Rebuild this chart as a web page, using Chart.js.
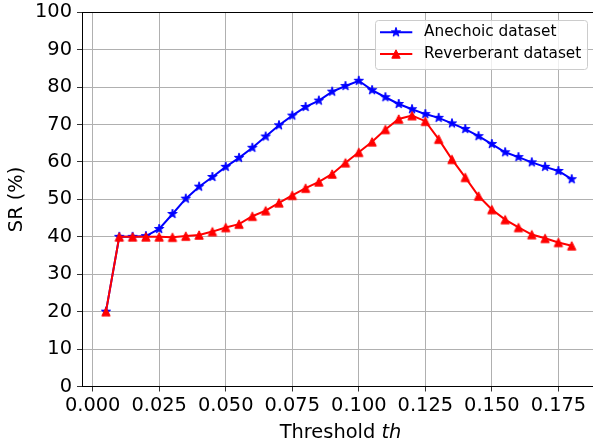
<!DOCTYPE html>
<html>
<head>
<meta charset="utf-8">
<title>SR vs threshold</title>
<script src="https://cdn.jsdelivr.net/npm/chart.js@4.4.0/dist/chart.umd.min.js"></script>
<style>
    html, body { margin: 0; padding: 0; background: #fff; overflow: hidden; }
    #wrap { width: 600px; height: 445px; }
</style>
</head>
<body>
<div id="wrap"><canvas id="srChart" width="600" height="445"></canvas></div>
<script>
// Threshold values (x) and success rate in % for both datasets
const thresholds = [0.005, 0.010, 0.015, 0.020, 0.025, 0.030, 0.035, 0.040, 0.045, 0.050,
                    0.055, 0.060, 0.065, 0.070, 0.075, 0.080, 0.085, 0.090, 0.095, 0.100,
                    0.105, 0.110, 0.115, 0.120, 0.125, 0.130, 0.135, 0.140, 0.145, 0.150,
                    0.155, 0.160, 0.165, 0.170, 0.175, 0.180];
const anechoicSR = [20.0, 40.0, 40.0, 40.2, 42.1, 46.1, 50.2, 53.4, 56.0, 58.7,
                    61.1, 63.8, 66.8, 69.8, 72.4, 74.7, 76.4, 78.8, 80.3, 81.7,
                    79.2, 77.3, 75.5, 74.1, 72.8, 71.8, 70.3, 68.8, 66.9, 64.8,
                    62.6, 61.3, 59.9, 58.7, 57.6, 55.4];
const reverberantSR = [20.0, 40.0, 40.0, 40.0, 40.0, 39.9, 40.2, 40.5, 41.4, 42.5,
                       43.4, 45.5, 47.0, 49.1, 51.1, 53.0, 54.7, 56.8, 59.8, 62.6,
                       65.4, 68.7, 71.5, 72.4, 70.9, 66.1, 60.7, 55.9, 50.9, 47.3,
                       44.6, 42.5, 40.6, 39.6, 38.5, 37.6];
const xTickValues = [0, 0.025, 0.05, 0.075, 0.1, 0.125, 0.15, 0.175];
const seriesNames = ['Anechoic dataset', 'Reverberant dataset'];

const FONT = 'DejaVu Sans';

// filled marker glyphs (5-point star and upward triangle)
function makeMarker(kind, color) {
    const c = document.createElement('canvas');
    c.width = 14;
    c.height = 14;
    const g = c.getContext('2d');
    g.translate(7, 7);
    g.fillStyle = color;
    g.strokeStyle = color;
    g.lineWidth = 1;
    g.lineJoin = 'miter';
    g.beginPath();
    if (kind === 'star') {
        const R = 4.9, r = R * 0.382;
        for (let i = 0; i < 10; i++) {
            const a = -Math.PI / 2 + i * Math.PI / 5;
            const rad = i % 2 ? r : R;
            g.lineTo(rad * Math.cos(a), rad * Math.sin(a));
        }
    } else {
        const s = 4.2;
        g.moveTo(0, -s);
        g.lineTo(-s, s);
        g.lineTo(s, s);
    }
    g.closePath();
    g.fill();
    g.stroke();
    return c;
}

const starBlue = makeMarker('star', '#0000ff');
const triRed = makeMarker('triangle', '#ff0000');

function toPoints(xs, ys) {
    return xs.map((x, i) => ({ x: x, y: ys[i] }));
}

// legend box in the upper right + italic x-axis title
const extras = {
    id: 'extras',
    afterDraw(chart) {
        const ctx = chart.ctx;
        ctx.save();

        // legend frame
        const bx = 375.5, by = 20.5, bw = 212, bh = 49, rad = 3;
        ctx.beginPath();
        ctx.roundRect(bx, by, bw, bh, rad);
        ctx.fillStyle = 'rgba(255,255,255,0.8)';
        ctx.fill();
        ctx.strokeStyle = '#cccccc';
        ctx.lineWidth = 1;
        ctx.stroke();

        const rows = [32.3, 54];
        chart.data.datasets.forEach((ds, i) => {
            const y = rows[i];
            ctx.beginPath();
            ctx.moveTo(380, y);
            ctx.lineTo(412.3, y);
            ctx.strokeStyle = ds.borderColor;
            ctx.lineWidth = 2;
            ctx.stroke();
            const img = ds.pointStyle;
            ctx.drawImage(img, 396 - img.width / 2, y - img.height / 2);
            ctx.fillStyle = '#000';
            ctx.font = '15.3px "' + FONT + '"';
            ctx.textAlign = 'left';
            ctx.textBaseline = 'middle';
            ctx.fillText(ds.label, 424, y);
        });

        // x-axis title: "Threshold th" with th in italics
        const part1 = 'Threshold ', part2 = 'th';
        ctx.font = '19.4px "' + FONT + '"';
        const w1 = ctx.measureText(part1).width;
        ctx.font = 'oblique 19.4px "' + FONT + '"';
        const w2 = ctx.measureText(part2).width;
        const cx = 340.5;
        const x0 = cx - (w1 + w2) / 2;
        ctx.fillStyle = '#000';
        ctx.textAlign = 'left';
        ctx.textBaseline = 'alphabetic';
        ctx.font = '19.4px "' + FONT + '"';
        ctx.fillText(part1, x0, 438.3);
        ctx.font = 'oblique 19.4px "' + FONT + '"';
        ctx.fillText(part2, x0 + w1, 438.3);

        ctx.restore();
    }
};

const ctx = document.getElementById('srChart').getContext('2d');
const srChart = new Chart(ctx, {
    type: 'line',
    data: {
        datasets: [
            {
                label: seriesNames[0],
                data: toPoints(thresholds, anechoicSR),
                borderColor: '#0000ff',
                backgroundColor: '#0000ff',
                borderWidth: 2,
                pointStyle: starBlue,
                pointRadius: 4.5,
                pointHoverRadius: 4.5,
                tension: 0,
                fill: false,
                order: 1
            },
            {
                label: seriesNames[1],
                data: toPoints(thresholds, reverberantSR),
                borderColor: '#ff0000',
                backgroundColor: '#ff0000',
                borderWidth: 2,
                pointStyle: triRed,
                pointRadius: 4.5,
                pointHoverRadius: 4.5,
                tension: 0,
                fill: false,
                order: 0
            }
        ]
    },
    options: {
        responsive: false,
        animation: false,
        layout: {
            autoPadding: false,
            padding: { top: 12.3, left: 0, right: 5, bottom: 0 }
        },
        plugins: {
            legend: { display: false },
            tooltip: { enabled: false }
        },
        scales: {
            x: {
                type: 'linear',
                min: -0.004,
                max: 0.18875,
                afterFit: (scale) => { scale.height = 58.5; },
                afterBuildTicks: (scale) => {
                    scale.ticks = xTickValues.map(v => ({ value: v }));
                },
                ticks: {
                    padding: 3,
                    maxRotation: 0,
                    autoSkip: false,
                    color: '#000',
                    font: { family: FONT, size: 19.4 },
                    callback: (v) => Number(v).toFixed(3)
                },
                grid: {
                    color: '#b0b0b0',
                    lineWidth: 1,
                    tickLength: 5,
                    tickColor: '#333'
                },
                border: { color: '#000', width: 1 }
            },
            y: {
                min: 0,
                max: 100,
                afterFit: (scale) => { scale.width = 82; },
                ticks: {
                    stepSize: 10,
                    padding: 5,
                    color: '#000',
                    font: { family: FONT, size: 19.4, lineHeight: 0.6 }
                },
                grid: {
                    color: (c) => (c.tick && c.tick.value === 100 ? '#000' : '#b0b0b0'),
                    lineWidth: 1,
                    tickLength: 5,
                    tickColor: '#333'
                },
                border: { color: '#000', width: 1 },
                title: {
                    display: true,
                    text: 'SR (%)',
                    color: '#000',
                    padding: { top: 5, bottom: 0 },
                    font: { family: FONT, size: 19.4 }
                }
            }
        }
    },
    plugins: [extras]
});
</script>
</body>
</html>
